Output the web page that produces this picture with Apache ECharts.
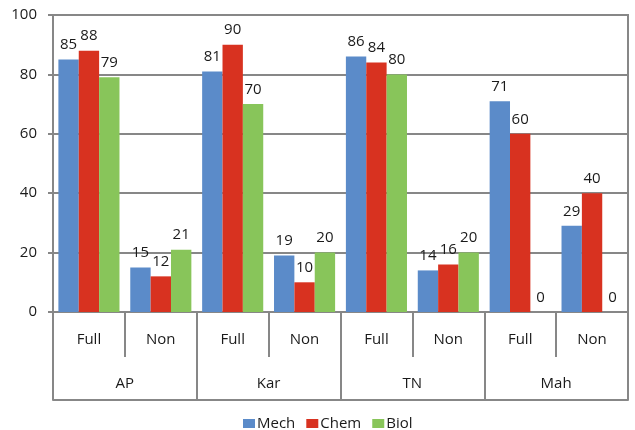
<!DOCTYPE html>
<html>
<head>
<meta charset="utf-8">
<script src="https://cdn.jsdelivr.net/npm/echarts@6/dist/echarts.min.js"></script>
<style>html,body{margin:0;padding:0;background:#fff;}#c{width:635px;height:430px;}</style>
</head>
<body>
<div id="c"></div>
<script>
var subCategories = ['Full', 'Non', 'Full', 'Non', 'Full', 'Non', 'Full', 'Non'];
var groups = ['AP', 'Kar', 'TN', 'Mah'];
var seriesNames = ['Mech', 'Chem', 'Biol'];
var mech = [85, 15, 81, 19, 86, 14, 71, 29];
var chem = [88, 12, 90, 10, 84, 16, 60, 40];
var biol = [79, 21, 70, 20, 80, 20, 0, 0];
var yTicks = [0, 20, 40, 60, 80, 100];

var colors = ['#5B8BC9', '#D83220', '#88C55A'];
var gray = '#878787';
var font = 'Open Sans';
var txt = '#1a1a1a';

var chart = echarts.init(document.getElementById('c'), null, {renderer: 'canvas'});
function bar(name, data, color) {
  return {
    name: name, type: 'bar', data: data, xAxisIndex: 0,
    barGap: '0%', barCategoryGap: '15%',
    itemStyle: {color: color},
    label: {show: true, position: 'top', distance: 7, color: txt, fontSize: 15, fontFamily: font}
  };
}
chart.setOption({
  animation: false,
  color: colors,
  grid: {left: 53, right: 7, top: 15, bottom: 118, show: true, borderColor: gray, borderWidth: 2},
  legend: {
    data: seriesNames, top: 411, left: 238,
    itemWidth: 12, itemHeight: 9, itemGap: 11, icon: 'rect',
    textStyle: {color: txt, fontSize: 15, fontFamily: font, padding: [0, 0, 0, -3]}
  },
  yAxis: {
    type: 'value', min: yTicks[0], max: yTicks[yTicks.length - 1], interval: 20,
    axisLine: {show: true, lineStyle: {color: gray, width: 2}},
    axisTick: {show: true, length: 5, lineStyle: {color: gray, width: 2}},
    splitLine: {lineStyle: {color: gray, width: 2}},
    axisLabel: {margin: 16, color: txt, fontSize: 15, fontFamily: font}
  },
  xAxis: [
    {
      type: 'category', data: subCategories, position: 'bottom',
      axisLine: {show: true, lineStyle: {color: gray, width: 2}},
      axisTick: {show: true, length: 45, interval: 0, lineStyle: {color: gray, width: 2}},
      axisLabel: {margin: 20, interval: 0, color: txt, fontSize: 15, fontFamily: font}
    },
    {
      type: 'category', data: groups, position: 'bottom', offset: 45,
      axisLine: {show: false},
      axisTick: {show: true, length: 43, interval: 0, lineStyle: {color: gray, width: 2}},
      axisLabel: {margin: 19, interval: 0, color: txt, fontSize: 15, fontFamily: font}
    },
    {
      type: 'category', data: groups, position: 'bottom', offset: 88,
      axisLine: {show: true, lineStyle: {color: gray, width: 2}},
      axisTick: {show: false}, axisLabel: {show: false}
    }
  ],
  series: [
    bar(seriesNames[0], mech, colors[0]),
    bar(seriesNames[1], chem, colors[1]),
    bar(seriesNames[2], biol, colors[2])
  ]
});
</script>
</body>
</html>
